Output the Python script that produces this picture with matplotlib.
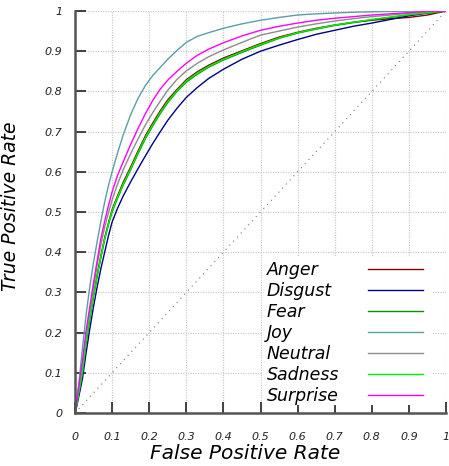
import matplotlib
matplotlib.use("Agg")
import matplotlib.pyplot as plt
from matplotlib.patches import Rectangle

fpr = [0, 0.005, 0.01, 0.02, 0.03, 0.04, 0.05, 0.06, 0.07, 0.08, 0.09, 0.1,
       0.115, 0.13, 0.15, 0.17, 0.19, 0.21, 0.23, 0.25, 0.275, 0.3, 0.33, 0.36,
       0.4, 0.45, 0.5, 0.55, 0.6, 0.65, 0.7, 0.75, 0.8, 0.85, 0.9, 0.95, 1.0]

anger = [0, .025, .052, .105, .18, .24, .295, .345, .392, .436, .472, .506,
         .541, .574, .612, .652, .69, .722, .752, .779, .805, .829, .849, .865,
         .883, .901, .919, .935, .947, .957, .965, .972, .977, .981, .984, .99, 1]
disgust = [0, .018, .04, .085, .15, .21, .265, .315, .36, .4, .44, .475,
           .51, .54, .575, .608, .64, .671, .70, .728, .758, .785, .81, .832,
           .855, .88, .9, .915, .929, .942, .952, .962, .97, .979, .988, .995, 1]
fear = [0, .022, .048, .1, .175, .235, .29, .34, .388, .432, .468, .5,
        .535, .567, .605, .645, .683, .715, .745, .772, .8, .823, .843, .86,
        .878, .897, .915, .932, .945, .955, .964, .971, .978, .984, .99, .995, 1]
joy = [0, .035, .07, .16, .245, .315, .375, .428, .478, .525, .565, .6,
       .648, .692, .742, .783, .815, .84, .86, .88, .902, .922, .937, .946,
       .957, .968, .977, .984, .99, .993, .995, .997, .998, .999, .9995, 1, 1]
neutral = [0, .028, .06, .12, .19, .25, .31, .37, .42, .462, .498, .53,
           .57, .605, .645, .682, .717, .748, .776, .803, .83, .851, .87, .886,
           .903, .922, .94, .95, .96, .968, .975, .981, .986, .99, .994, .998, 1]
sadness = [0, .023, .05, .102, .178, .238, .292, .342, .39, .433, .47, .503,
           .538, .57, .608, .648, .686, .718, .748, .775, .802, .826, .846, .862,
           .88, .899, .917, .933, .946, .956, .965, .972, .979, .985, .991, .996, 1]
surprise = [0, .03, .065, .13, .205, .265, .325, .38, .435, .477, .515, .55,
            .592, .625, .668, .708, .745, .778, .806, .828, .85, .87, .89, .905,
            .921, .938, .952, .962, .97, .977, .982, .986, .99, .993, .996, .999, 1]

labels = ["Anger", "Disgust", "Fear", "Joy", "Neutral", "Sadness", "Surprise"]
series = [anger, disgust, fear, joy, neutral, sadness, surprise]
colors = ["#8b0000", "#00008b", "#009400", "#5a9ea8", "#8c8c8c", "#00ee00", "#ff00ff"]

ticks = [0, 0.1, 0.2, 0.3, 0.4, 0.5, 0.6, 0.7, 0.8, 0.9, 1]
tick_labels = ["0", "0.1", "0.2", "0.3", "0.4", "0.5", "0.6", "0.7", "0.8", "0.9", "1"]

fig = plt.figure(figsize=(4.49, 4.66), dpi=100)
ax = fig.add_axes([75/449, 1-413/466, 371/449, 402/466])

ax.set_xlim(0, 1)
ax.set_ylim(0, 1)
ax.grid(True, linestyle=(0, (1, 1)), color="#cccccc", linewidth=0.9)
ax.set_axisbelow(True)

ax.plot([0, 1], [0, 1], linestyle=(0, (1, 4)), color="#777777", linewidth=0.8)

for s, c, l in zip(series, colors, labels):
    ax.plot(fpr, s, color=c, linewidth=1.0, label=l)

for side in ["top", "right"]:
    ax.spines[side].set_visible(False)
for side in ["left", "bottom"]:
    ax.spines[side].set_color("#555555")
    ax.spines[side].set_linewidth(1.8)

ax.set_xticks(ticks)
ax.set_yticks(ticks)
ax.set_xticklabels(tick_labels, fontstyle="italic", fontsize=8, color="#222222")
ax.set_yticklabels(tick_labels, fontstyle="italic", fontsize=8, color="#222222")
ax.tick_params(axis="x", direction="in", length=8, width=1.3, color="#333333", pad=14)
ax.tick_params(axis="y", direction="in", length=8, width=1.3, color="#333333", pad=9)

ax.set_xlabel("False Positive Rate", fontstyle="italic", fontsize=14.5)
ax.set_ylabel("True Positive Rate", fontstyle="italic", fontsize=13.5)
ax.xaxis.set_label_coords(0.458, -0.078)
ax.yaxis.set_label_coords(-0.148, 0.515)

# legend box (white, no border)
ax.add_patch(Rectangle((0.504, 0.02), 0.461, 0.37, transform=ax.transAxes,
                       facecolor="white", edgecolor="none", zorder=3))
y0 = 0.358
dy = 0.0522
for i, (c, l) in enumerate(zip(colors, labels)):
    y = y0 - i * dy
    ax.text(0.5175, y - 0.015, l, transform=ax.transAxes, fontstyle="italic",
            fontsize=12.5, ha="left", va="baseline", zorder=4)
    ax.plot([0.79, 0.938], [y, y], transform=ax.transAxes, color=c,
            linewidth=1.0, zorder=4, clip_on=False)

fig.savefig("out.png", dpi=100)
